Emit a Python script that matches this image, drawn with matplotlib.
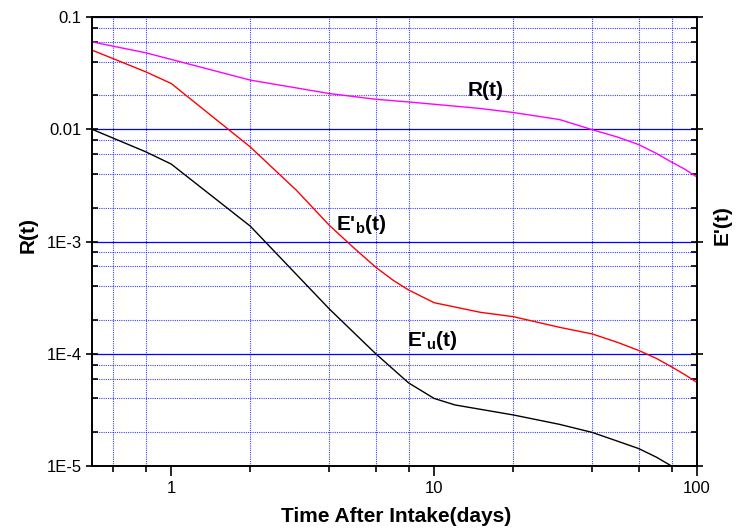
import numpy as np
import matplotlib
matplotlib.use('Agg')
import matplotlib.pyplot as plt
from matplotlib.ticker import FixedLocator, FixedFormatter, NullFormatter

plt.rcParams['font.family'] = ['Liberation Sans', 'DejaVu Sans']
plt.rcParams['mathtext.fontset'] = 'custom'
plt.rcParams['mathtext.rm'] = 'Liberation Sans'
plt.rcParams['mathtext.bf'] = 'Liberation Sans:bold'

# Retention R(t) and excretion E'(t) curves
t_r = [0.5, 0.8, 1, 2, 4, 6, 8, 10, 15, 20, 30, 40, 50, 60, 70, 80, 90, 100]
r_t = [0.060, 0.048, 0.0419, 0.0274, 0.0208, 0.0185, 0.0175, 0.0167, 0.0153,
       0.0141, 0.0122, 0.0099, 0.0085, 0.0073, 0.0061, 0.0051, 0.0044, 0.00375]

t_b = [0.5, 0.8, 1, 2, 3, 4, 5, 6, 7, 8, 10, 15, 20, 30, 40, 50, 60, 70, 80, 90, 100]
eb_t = [0.0507, 0.0325, 0.0256, 0.00695, 0.00285, 0.00139, 8.6e-4, 5.9e-4, 4.5e-4,
        3.7e-4, 2.85e-4, 2.34e-4, 2.14e-4, 1.72e-4, 1.5e-4, 1.26e-4, 1.07e-4,
        9.1e-5, 7.65e-5, 6.5e-5, 5.55e-5]

t_u = [0.5, 0.8, 1, 2, 4, 6, 8, 10, 12, 15, 20, 30, 40, 50, 60, 70, 80]
eu_t = [0.010, 0.0063, 0.0049, 0.00137, 2.5e-4, 1.0e-4, 5.5e-5, 4.0e-5,
        3.5e-5, 3.2e-5, 2.85e-5, 2.35e-5, 1.99e-5, 1.66e-5, 1.43e-5, 1.2e-5, 1.0e-5]

x_major = [1, 10, 100]
x_minor = [0.6, 0.8, 2, 4, 6, 8, 20, 40, 60, 80]
y_major = [1e-5, 1e-4, 1e-3, 1e-2, 1e-1]
y_labels = ['1E-5', '1E-4', '1E-3', '0.01', '0.1']
y_minor = [m * d for d in [1e-5, 1e-4, 1e-3, 1e-2] for m in (2, 4, 6, 8)]

fig = plt.figure(figsize=(7.38, 5.32), dpi=100)
ax = fig.add_axes([92 / 738, 66 / 532, 605 / 738, 449 / 532])

ax.plot(t_r, r_t, color='#ff00ff', lw=1.0)
ax.plot(t_b, eb_t, color='#ff0000', lw=1.0)
ax.plot(t_u, eu_t, color='black', lw=1.0)

ax.set_xscale('log')
ax.set_yscale('log')
ax.set_xlim(0.5, 100)
ax.set_ylim(1e-5, 0.1)

ax.xaxis.set_major_locator(FixedLocator(x_major))
ax.xaxis.set_major_formatter(FixedFormatter(['1', '10', '100']))
ax.xaxis.set_minor_locator(FixedLocator(x_minor))
ax.xaxis.set_minor_formatter(NullFormatter())
ax.yaxis.set_major_locator(FixedLocator(y_major))
ax.yaxis.set_major_formatter(FixedFormatter(y_labels))
ax.yaxis.set_minor_locator(FixedLocator(y_minor))
ax.yaxis.set_minor_formatter(NullFormatter())

# grid: solid major horizontals, dotted minor lines
ax.grid(True, which='major', axis='y', color='#0000ff', lw=0.9, ls='-')
ax.grid(True, which='minor', axis='both', color='#0000ff', lw=0.8, ls=(0, (1, 1)), alpha=0.75)
ax.set_axisbelow(True)

ax.tick_params(axis='x', which='major', direction='out', length=7, width=1.2, labelsize=12)
ax.tick_params(axis='x', which='minor', direction='out', length=4, width=1.2)
ax.tick_params(axis='y', which='major', direction='inout', length=8, width=1.2,
               labelsize=12, right=True)
ax.tick_params(axis='y', which='minor', direction='in', length=4, width=1.2, right=True)
for s in ax.spines.values():
    s.set_linewidth(1.4)

fig.text(396 / 738, 1 - 516 / 532, 'Time After Intake(days)', fontsize=15,
         fontweight='bold', ha='center', va='center')
fig.text(28 / 738, 1 - 235 / 532, 'R(t)', rotation=90, fontsize=15, fontweight='bold',
         ha='center', va='center')
fig.text(722 / 738, 1 - 225 / 532, "E'(t)", rotation=90, fontsize=15, fontweight='bold',
         ha='center', va='center')

fig.text(486 / 738, 1 - 91 / 532, 'R(t)', fontsize=15, fontweight='bold',
         ha='center', va='center')
fig.text(361 / 738, 1 - 224 / 532, r"E'$_{\mathbf{b}}$(t)", fontsize=15,
         fontweight='bold', ha='center', va='center')
fig.text(432 / 738, 1 - 341 / 532, r"E'$_{\mathbf{u}}$(t)", fontsize=15,
         fontweight='bold', ha='center', va='center')

fig.savefig('out.png', dpi=100)
